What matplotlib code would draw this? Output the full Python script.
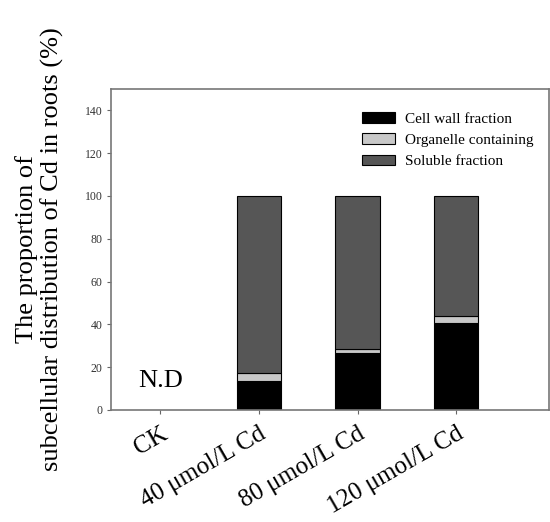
import matplotlib.pyplot as plt
import numpy as np

groups = ["CK", "40 μmol/L Cd", "80 μmol/L Cd", "120 μmol/L Cd"]
cell_wall = [0, 13.6, 26.8, 40.6]
organelle = [0, 3.6, 1.6, 3.4]
soluble = [0, 82.8, 71.6, 56.0]

plt.rcParams['font.family'] = ['Liberation Serif', 'DejaVu Serif']

fig = plt.figure(figsize=(5.5, 5.22), dpi=100)
ax = fig.add_axes([111 / 550, 1 - 410 / 522, 438 / 550, 321 / 522])

x = np.arange(len(groups))
cw = np.array(cell_wall)
org = np.array(organelle)
sol = np.array(soluble)
w = 0.45
mask = x > 0
ax.bar(x[mask], cw[mask], w, color='black', edgecolor='black', linewidth=0.8, label='Cell wall fraction')
ax.bar(x[mask], org[mask], w, bottom=cw[mask], color='#c8c8c8', edgecolor='black', linewidth=0.8,
       label='Organelle containing')
ax.bar(x[mask], sol[mask], w, bottom=cw[mask] + org[mask], color='#565656', edgecolor='black', linewidth=0.8,
       label='Soluble fraction')

ax.text(0, 13.6, 'N.D', ha='center', va='center', fontsize=19)

ax.set_xlim(-0.5, 3.94)
ax.set_ylim(0, 150)
ax.set_yticks(range(0, 141, 20))
ax.set_yticklabels([str(v) for v in range(0, 141, 20)], fontsize=8.5, color='#333333')
ax.set_xticks(x)
ax.set_xticklabels(groups, rotation=30, ha='right', rotation_mode='anchor', fontsize=18)
ax.tick_params(axis='both', length=3, width=0.8, color='#666666', direction='out')
ax.tick_params(axis='x', pad=6)
ax.tick_params(axis='y', pad=3)
for s in ax.spines.values():
    s.set_color('#777777')
    s.set_linewidth(1.2)

ax.set_ylabel('The proportion of\nsubcellular distribution of Cd in roots (%)', fontsize=19,
              labelpad=15, linespacing=1.15)

ax.legend(loc='upper left', bbox_to_anchor=(237 / 438, 0.97), frameon=False, fontsize=11,
          handlelength=2.2, handleheight=0.65, labelspacing=0.5, handletextpad=0.6)

fig.savefig('out.png', dpi=100)
